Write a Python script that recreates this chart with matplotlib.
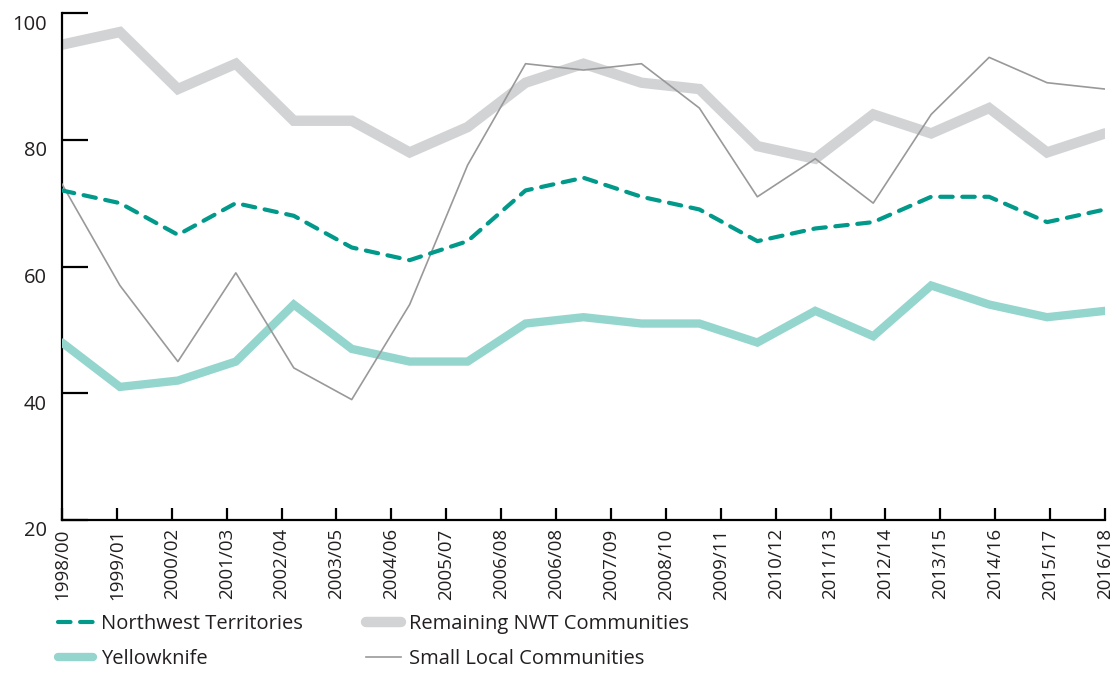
import matplotlib
matplotlib.use("Agg")
import matplotlib.pyplot as plt
import matplotlib.transforms as mtransforms
import numpy as np

plt.rcParams['font.family'] = ['Open Sans', 'DejaVu Sans']

# tick labels on the category axis (20 labels, 2006/08 appears twice in the source)
periods = ['1998/00', '1999/01', '2000/02', '2001/03', '2002/04', '2003/05',
           '2004/06', '2005/07', '2006/08', '2006/08', '2007/09', '2008/10',
           '2009/11', '2010/12', '2011/13', '2012/14', '2013/15', '2014/16',
           '2015/17', '2016/18']

# series values (19 points each)
nwt = [72, 70, 65, 70, 68, 63, 61, 64, 72, 74, 71, 69, 64, 66, 67, 71, 71, 67, 69]
yellowknife = [48, 41, 42, 45, 54, 47, 45, 45, 51, 52, 51, 51, 48, 53, 49, 57, 54, 52, 53]
remaining = [95, 97, 88, 92, 83, 83, 78, 82, 89, 92, 89, 88, 79, 77, 84, 81, 85, 78, 81]
small_local = [73, 57, 45, 59, 44, 39, 54, 76, 92, 91, 92, 85, 71, 77, 70, 84, 93, 89, 88]

text_color = '#231F20'

fig = plt.figure(figsize=(11.17, 6.94), dpi=100)
ax = fig.add_axes([62 / 1117, 1 - 520 / 694, (1105 - 62) / 1117, (520 - 13) / 694])

# data points are spread evenly over the whole category axis
x = np.linspace(0, len(periods) - 1, len(nwt))

ax.plot(x, remaining, color='#D2D3D5', lw=7.5, solid_capstyle='round',
        solid_joinstyle='miter', label='Remaining NWT Communities', zorder=2)
ax.plot(x, yellowknife, color='#94D5CE', lw=6, solid_capstyle='round',
        solid_joinstyle='miter', label='Yellowknife', zorder=3)
ax.plot(x, small_local, color='#999999', lw=1.2, label='Small Local Communities', zorder=4)
ax.plot(x, nwt, color='#00998A', lw=3, dashes=(3.0, 2.3), dash_capstyle='round',
        label='Northwest Territories', zorder=5)

ax.set_xlim(0, len(periods) - 1)
ax.set_ylim(20, 100)
ax.set_xticks(range(len(periods)))
ax.set_xticklabels(periods, rotation=90, fontsize=13.5, color=text_color)
ax.set_yticks([20, 40, 60, 80, 100])
ax.set_yticklabels(['20', '40', '60', '80', '100'], fontsize=14.5, color=text_color)

for side in ['top', 'right']:
    ax.spines[side].set_visible(False)
for side in ['left', 'bottom']:
    ax.spines[side].set_linewidth(1.6)
    ax.spines[side].set_color('black')

ax.tick_params(axis='y', direction='in', length=19, width=1.6, pad=11)
ax.tick_params(axis='x', direction='in', length=9, width=1.6, pad=6)

# y labels sit a bit below their tick marks in the original
offset = mtransforms.ScaledTranslation(0, -9 / 100, fig.dpi_scale_trans)
for lab in ax.get_yticklabels():
    lab.set_transform(lab.get_transform() + offset)

handles, labels = ax.get_legend_handles_labels()
order = [3, 1, 0, 2]
leg = fig.legend([handles[i] for i in order], [labels[i] for i in order],
                 loc='upper left', bbox_to_anchor=(58 / 1117, 1 - 614 / 694),
                 ncol=2, frameon=False, fontsize=14.5, handlelength=1.75,
                 handletextpad=0.4, columnspacing=3.1, labelspacing=0.75,
                 borderpad=0, borderaxespad=0)
for t in leg.get_texts():
    t.set_color(text_color)

fig.savefig('out.png', dpi=100)
